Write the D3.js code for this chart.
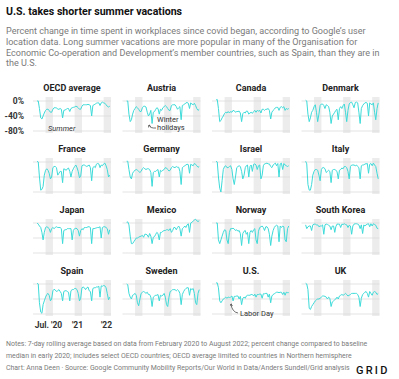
<!DOCTYPE html>
<html><head><meta charset="utf-8">
<script src="https://cdn.jsdelivr.net/npm/d3@7"></script>
<style>
body{margin:0;background:#fff;}
svg{display:block;font-family:Roboto,"Noto Sans",sans-serif;}
</style></head><body>
<svg id="c" width="399" height="379"></svg>
<script>
// ---- data ----
const dates = [
 "2020-02-16","2020-03-01","2020-03-16","2020-04-01","2020-04-16","2020-05-01","2020-05-16","2020-06-01","2020-06-16","2020-07-01","2020-07-16","2020-08-01","2020-08-16","2020-09-01","2020-09-16","2020-10-01","2020-10-16","2020-11-01","2020-11-16","2020-12-01","2020-12-16",
 "2021-01-01","2021-01-16","2021-02-01","2021-02-16","2021-03-01","2021-03-16","2021-04-01","2021-04-16","2021-05-01","2021-05-16","2021-06-01","2021-06-16","2021-07-01","2021-07-16","2021-08-01","2021-08-16","2021-09-01","2021-09-16","2021-10-01","2021-10-16","2021-11-01","2021-11-16","2021-12-01","2021-12-16",
 "2022-01-01","2022-01-16","2022-02-01","2022-02-16","2022-03-01","2022-03-16","2022-04-01","2022-04-16","2022-05-01","2022-05-16","2022-06-01","2022-06-16","2022-07-01","2022-07-16","2022-08-01","2022-08-16"];

const countries = ["OECD average","Austria","Canada","Denmark","France","Germany","Israel","Italy","Japan","Mexico","Norway","South Korea","Spain","Sweden","U.S.","UK"];

const oecd = [0,0,-20,-45,-48,-40,-32,-25,-22,-22,-25,-30,-30,-22,-18,-18,-18,-22,-22,-20,-22,
 -45,-25,-24,-22,-20,-20,-28,-20,-18,-17,-16,-14,-15,-18,-22,-22,-14,-10,-10,-10,-10,-9,-10,-12,
 -40,-12,-10,-8,-6,-5,-5,-12,-5,-3,-5,-6,-10,-14,-16,-14];
const austria = [0,0,-35,-55,-50,-35,-25,-20,-15,-18,-22,-28,-28,-18,-14,-14,-16,-30,-40,-35,-25,
 -60,-30,-28,-22,-18,-20,-35,-22,-25,-18,-15,-12,-15,-20,-25,-25,-12,-10,-10,-10,-15,-22,-18,-15,
 -50,-12,-10,-8,-5,-4,-6,-20,-5,-8,-10,-6,-12,-20,-25,-22];
const canada = [3,4,-20,-55,-52,-45,-40,-33,-30,-32,-28,-32,-28,-30,-25,-26,-30,-28,-28,-27,-32,
 -55,-34,-30,-32,-27,-27,-35,-32,-30,-33,-28,-25,-30,-25,-27,-25,-32,-22,-22,-25,-22,-22,-20,-25,
 -48,-30,-25,-22,-18,-17,-17,-25,-17,-15,-18,-15,-25,-20,-22,-20];
const denmark = [2,0,-35,-55,-45,-30,-25,-15,-10,-30,-55,-35,-12,-8,-8,-12,-20,-10,-12,-15,-30,
 -60,-40,-35,-30,-25,-22,-50,-20,-15,-20,-12,-8,-30,-55,-25,-8,-4,-3,-10,-18,-4,-3,-5,-30,
 -60,-20,-12,-8,-5,-4,-6,-40,-5,-8,-10,-5,-30,-50,-20,-5];
const france = [2,0,-40,-75,-73,-65,-35,-22,-18,-22,-30,-45,-40,-15,-12,-12,-15,-35,-30,-25,-25,
 -55,-18,-20,-22,-18,-16,-25,-40,-25,-18,-12,-8,-15,-25,-42,-38,-10,-8,-8,-10,-12,-10,-8,-15,
 -50,-15,-12,-15,-6,-4,-5,-15,-8,-10,-5,-3,-10,-20,-40,-35];
const germany = [2,2,-20,-40,-45,-30,-25,-22,-20,-22,-25,-28,-25,-18,-15,-18,-20,-18,-18,-20,-28,
 -65,-28,-25,-25,-22,-20,-40,-22,-25,-22,-20,-15,-16,-20,-24,-22,-15,-12,-14,-15,-12,-14,-14,-25,
 -60,-15,-12,-10,-8,-6,-7,-30,-6,-8,-10,-4,-6,-10,-14,-12];
const israel = [2,0,-40,-70,-80,-50,-20,-12,-10,-15,-15,-12,-10,-20,-45,-60,-40,-15,-12,-10,-12,
 -25,-45,-35,-15,-10,-8,-40,-12,-8,-25,-6,-5,-8,-20,-10,-8,-45,-35,-10,-5,-4,-3,-5,-5,
 -12,-15,-8,-5,-3,-10,-4,-40,-5,-3,-20,-4,-8,-10,-12,-10];
const italy = [2,-5,-60,-75,-75,-60,-35,-25,-20,-20,-22,-35,-50,-20,-15,-15,-18,-28,-25,-22,-25,
 -55,-22,-20,-20,-22,-25,-45,-22,-20,-16,-18,-12,-12,-15,-25,-45,-12,-8,-8,-8,-10,-8,-12,-15,
 -45,-10,-8,-8,-5,-5,-4,-30,-6,-4,-10,-3,-8,-12,-30,-45];
const japan = [0,-3,-8,-12,-25,-45,-25,-12,-10,-12,-15,-25,-15,-12,-15,-12,-10,-12,-12,-12,-15,
 -55,-20,-18,-18,-15,-15,-15,-15,-45,-20,-15,-14,-15,-20,-35,-20,-15,-18,-12,-12,-12,-10,-10,-12,
 -55,-15,-15,-14,-13,-12,-12,-10,-40,-12,-10,-10,-12,-15,-30,-18];
const mexico = [2,3,-5,-35,-55,-55,-50,-45,-40,-40,-38,-36,-35,-33,-38,-30,-30,-32,-38,-28,-35,
 -55,-38,-36,-30,-25,-28,-45,-25,-25,-22,-20,-20,-18,-18,-20,-15,-25,-20,-12,-12,-18,-12,-8,-15,
 -35,-15,-12,-8,-12,-5,-2,-25,0,2,5,8,10,6,4,6];
const norway = [0,0,-45,-55,-45,-35,-25,-18,-20,-45,-55,-25,-15,-15,-14,-16,-20,-18,-22,-20,-28,
 -60,-28,-22,-20,-30,-25,-55,-25,-20,-25,-18,-15,-45,-55,-22,-12,-10,-8,-12,-20,-10,-10,-15,-30,
 -60,-35,-20,-12,-8,-6,-8,-50,-8,-12,-8,-10,-45,-50,-15,-8];
const southKorea = [-5,-15,-10,-8,-8,-20,-5,-3,-3,-5,-5,-10,-8,-8,-5,-30,-5,-3,-4,-6,-8,
 -18,-8,-8,-25,-10,-3,-3,-3,-12,-3,-4,-2,-4,-5,-12,-6,-8,-30,-8,-3,-2,-2,-3,-5,
 -15,-5,-28,-5,-8,-5,-3,-2,-10,-2,-8,-2,-4,-6,-14,-15];
const spain = [2,0,-50,-75,-78,-55,-45,-35,-28,-25,-30,-45,-40,-18,-14,-16,-20,-18,-15,-20,-25,
 -45,-20,-18,-18,-20,-22,-45,-18,-15,-15,-12,-12,-15,-25,-45,-38,-10,-8,-10,-15,-10,-8,-18,-20,
 -45,-12,-10,-10,-8,-8,-6,-35,-5,-6,-4,-5,-10,-25,-42,-35];
const sweden = [0,-2,-25,-35,-40,-30,-28,-25,-30,-50,-58,-40,-25,-22,-20,-22,-25,-22,-28,-28,-35,
 -60,-35,-32,-30,-30,-28,-45,-30,-32,-30,-25,-35,-55,-60,-35,-20,-18,-15,-15,-15,-18,-15,-18,-25,
 -55,-28,-20,-15,-12,-10,-10,-30,-12,-15,-12,-25,-50,-55,-25,-15];
const us = [3,3,-10,-45,-50,-45,-40,-38,-35,-38,-35,-36,-35,-32,-45,-33,-33,-32,-32,-40,-33,
 -55,-38,-35,-38,-32,-30,-30,-30,-28,-28,-32,-27,-35,-28,-28,-27,-27,-38,-26,-26,-25,-25,-35,-27,
 -50,-32,-28,-26,-24,-22,-22,-23,-22,-22,-28,-22,-30,-22,-23,-23];
const uk = [2,0,-15,-65,-68,-60,-55,-50,-45,-42,-40,-40,-38,-35,-32,-32,-33,-35,-40,-35,-38,
 -60,-48,-45,-42,-40,-35,-40,-32,-30,-28,-30,-28,-25,-28,-32,-30,-28,-25,-25,-25,-25,-25,-28,-35,
 -60,-38,-28,-25,-22,-20,-25,-35,-20,-25,-30,-22,-20,-22,-28,-25];
const series = [oecd,austria,canada,denmark,france,germany,israel,italy,japan,mexico,norway,southKorea,spain,sweden,us,uk];

const yTicks = [0,-40,-80];
const xTicks = ["2020-07-01","2021-07-01","2022-07-01"];
const xTickLabels = ["Jul. '20","'21","'22"];
const summers = [["2020-06-01","2020-09-01"],["2021-06-01","2021-09-01"],["2022-06-01","2022-09-01"]];

const title = "U.S. takes shorter summer vacations";
const subtitle = ["Percent change in time spent in workplaces since covid began, according to Google’s user",
 "location data. Long summer vacations are more popular in many of the Organisation for",
 "Economic Co-operation and Development’s member countries, such as Spain, than they are in",
 "the U.S."];
const notes = ["Notes: 7-day rolling average based on data from February 2020 to August 2022; percent change compared to baseline",
 "median in early 2020; includes select OECD countries; OECD average limited to countries in Northern hemisphere",
 "Chart: Anna Deen · Source: Google Community Mobility Reports/Our World in Data/Anders Sundell/Grid analysis"];

// ---- drawing ----
const svg = d3.select("#c");
const parse = d3.timeParse("%Y-%m-%d");
const D = dates.map(parse);
const W = 78, H = 36;
const x = d3.scaleTime().domain([parse("2019-12-26"), parse("2022-09-01")]).range([0, W]);
const y = d3.scaleLinear().domain([10.7, -85.3]).range([0, H]);
const LINE = "#3ddbd9";

svg.append("text").attr("x",6).attr("y",15).attr("font-size",10.6).attr("font-weight","bold").attr("fill","#111").text(title);
svg.append("g").selectAll("text").data(subtitle).join("text")
  .attr("x",6).attr("y",(d,i)=>34+i*10.8).attr("font-size",9.05).attr("fill","#7a7a7a").text(d=>d);

const line = d3.line().x((d,i)=>x(D[i])).y(d=>y(d));

countries.forEach((name,k)=>{
  const c = k%4, r = Math.floor(k/4);
  const g = svg.append("g").attr("transform",`translate(${33+c*89.5},${97+r*61})`);
  g.selectAll("rect.s").data(summers).join("rect")
    .attr("x",d=>x(parse(d[0]))).attr("width",d=>x(parse(d[1]))-x(parse(d[0])))
    .attr("y",0).attr("height",H).attr("fill","#ececec");
  g.selectAll("line.g").data(yTicks).join("line")
    .attr("x1",0).attr("x2",W).attr("y1",d=>y(d)).attr("y2",d=>y(d))
    .attr("stroke","#dcdcdc").attr("stroke-width",0.8);
  g.append("text").attr("x",W/2).attr("y",-6.5).attr("text-anchor","middle")
    .attr("font-size",9).attr("font-weight","bold").attr("fill","#222").text(name);
  g.append("path").datum(series[k]).attr("d",line).attr("fill","none")
    .attr("stroke",LINE).attr("stroke-width",1).attr("stroke-linejoin","round");
  if(k===0){
    const ax = g.append("g").call(d3.axisLeft(y).tickValues(yTicks).tickSize(0).tickPadding(9).tickFormat(d=>d+"%"));
    ax.select(".domain").remove();
    ax.selectAll("text").attr("font-size",8.5).attr("font-weight","bold").attr("fill","#333").attr("font-family","Roboto");
  }
  if(k===12){
    const ax = g.append("g").attr("transform",`translate(0,${H})`)
      .call(d3.axisBottom(x).tickValues(xTicks.map(parse)).tickSize(0).tickPadding(6).tickFormat((d,i)=>xTickLabels[i]));
    ax.select(".domain").remove();
    ax.selectAll("text").attr("font-size",8.5).attr("font-weight","bold").attr("fill","#333").attr("font-family","Roboto");
  }
});

// annotations
const defs = svg.append("defs");
defs.append("marker").attr("id","ah").attr("viewBox","0 0 6 6").attr("refX",5).attr("refY",3)
  .attr("markerWidth",4).attr("markerHeight",4).attr("orient","auto")
  .append("path").attr("d","M0,0L6,3L0,6").attr("fill","none").attr("stroke","#333").attr("stroke-width",1.2);
svg.append("text").attr("x",48).attr("y",130.5).attr("font-size",7.5).attr("font-style","italic").attr("fill","#333").text("Summer");
svg.append("text").attr("x",157).attr("y",121.5).attr("font-size",7.5).attr("fill","#333").text("Winter");
svg.append("text").attr("x",157).attr("y",130).attr("font-size",7.5).attr("fill","#333").text("holidays");
svg.append("path").attr("d","M156,128 Q150,128.5 149,125").attr("fill","none").attr("stroke","#333").attr("stroke-width",0.7).attr("marker-end","url(#ah)");
svg.append("text").attr("x",240).attr("y",316).attr("font-size",7.5).attr("fill","#333").text("Labor Day");
svg.append("path").attr("d","M238,313 Q232,312 231,304").attr("fill","none").attr("stroke","#333").attr("stroke-width",0.7).attr("marker-end","url(#ah)");

svg.append("g").selectAll("text").data(notes).join("text")
  .attr("x",6).attr("y",(d,i)=>346+i*12).attr("font-size",6.95).attr("fill","#7a7a7a").text(d=>d);
svg.append("text").attr("x",356).attr("y",374).attr("font-size",11).attr("font-weight","500").attr("letter-spacing",2.2).attr("fill","#111").text("GRID");
</script></body></html>
